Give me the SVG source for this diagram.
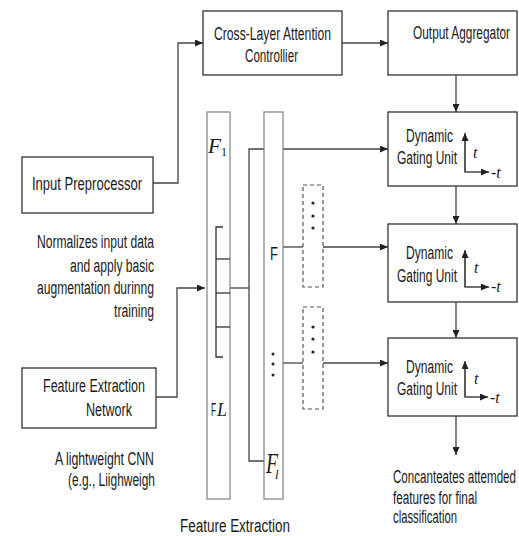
<svg xmlns="http://www.w3.org/2000/svg" width="519" height="536" viewBox="0 0 519 536">
<defs>
<style>
.box{fill:#fff;stroke:#333;stroke-width:1.3}
.col{fill:#fff;stroke:#808080;stroke-width:1.2}
.ln{fill:none;stroke:#444;stroke-width:1.3}
.br{fill:none;stroke:#333;stroke-width:1.3}
.dash{fill:none;stroke:#555;stroke-width:1.2;stroke-dasharray:4 3}
.t{font-family:"Liberation Sans",Arial,sans-serif;font-size:18px;fill:#1a1a1a}
.m{font-family:"Liberation Serif","Times New Roman",serif;font-style:italic;fill:#1a1a1a}
.s{font-family:"Liberation Serif","Times New Roman",serif;fill:#1a1a1a}
.dot{fill:#222}
</style>
<marker id="ah" viewBox="0 0 8 7" refX="8" refY="3.5" markerWidth="8" markerHeight="7" markerUnits="userSpaceOnUse" orient="auto">
<path d="M0,0 L8,3.5 L0,7 z" fill="#222"/>
</marker>
</defs>
<rect width="519" height="536" fill="#fff"/>

<g id="connectors">
<polyline class="ln" points="153,183 178,183 178,43 203,43" marker-end="url(#ah)"/>
<line class="ln" x1="342" y1="43" x2="388" y2="43" marker-end="url(#ah)"/>
<polyline class="ln" points="156,397 177,397 177,288 205,288" marker-end="url(#ah)"/>
<line class="ln" x1="456" y1="75" x2="456" y2="112" marker-end="url(#ah)"/>
<line class="ln" x1="456" y1="186" x2="456" y2="224" marker-end="url(#ah)"/>
<line class="ln" x1="456" y1="302" x2="456" y2="338" marker-end="url(#ah)"/>
<line class="ln" x1="456" y1="416" x2="456" y2="455" marker-end="url(#ah)"/>
<polyline class="ln" points="264,149 249,149 249,461 264,461"/>
<line class="ln" x1="230" y1="288" x2="249" y2="288"/>
<line class="ln" x1="283" y1="149" x2="388" y2="149" marker-end="url(#ah)"/>
<line class="ln" x1="283" y1="247" x2="303" y2="247"/>
<line class="ln" x1="323" y1="247" x2="388" y2="247" marker-end="url(#ah)"/>
<line class="ln" x1="283" y1="363" x2="303" y2="363"/>
<line class="ln" x1="323" y1="363" x2="388" y2="363" marker-end="url(#ah)"/>
</g>

<g id="cross-layer-attention-controller">
<rect class="box" x="203" y="11" width="139" height="64"/>
<text class="t" x="214" y="40" textLength="117" lengthAdjust="spacingAndGlyphs">Cross-Layer Attention</text>
<text class="t" x="245" y="62" textLength="53" lengthAdjust="spacingAndGlyphs">Controllier</text>
</g>

<g id="output-aggregator">
<rect class="box" x="388" y="11" width="129" height="64"/>
<text class="t" x="413" y="39" textLength="97" lengthAdjust="spacingAndGlyphs">Output Aggregator</text>
</g>

<g id="input-preprocessor">
<rect class="box" x="22" y="157" width="131" height="56"/>
<text class="t" x="32" y="190" textLength="110" lengthAdjust="spacingAndGlyphs">Input Preprocessor</text>
</g>

<g id="input-preprocessor-note">
<text class="t" x="37" y="248" textLength="117" lengthAdjust="spacingAndGlyphs">Normalizes input data</text>
<text class="t" x="70" y="272" textLength="84" lengthAdjust="spacingAndGlyphs">and apply basic</text>
<text class="t" x="37" y="294" textLength="117" lengthAdjust="spacingAndGlyphs">augmentation durinng</text>
<text class="t" x="114" y="317" textLength="40" lengthAdjust="spacingAndGlyphs">training</text>
</g>

<g id="feature-extraction-network">
<rect class="box" x="22" y="368" width="134" height="60"/>
<text class="t" x="43" y="392" textLength="102" lengthAdjust="spacingAndGlyphs">Feature Extraction</text>
<text class="t" x="86" y="416" textLength="46" lengthAdjust="spacingAndGlyphs">Network</text>
</g>

<g id="feature-extraction-note">
<text class="t" x="55" y="465" textLength="99" lengthAdjust="spacingAndGlyphs">A lightweight CNN</text>
<text class="t" x="68" y="486" textLength="87" lengthAdjust="spacingAndGlyphs">(e.g., Liighweigh</text>
</g>

<g id="feature-column-1">
<rect class="col" x="207" y="112" width="23" height="387"/>
<text class="m" x="208" y="153" font-size="20" textLength="13" lengthAdjust="spacingAndGlyphs">F</text>
<text class="s" x="221" y="156" font-size="12">1</text>
<polyline class="br" points="223,227 216,227 216,357 223,357"/>
<line class="br" x1="216" y1="259" x2="230" y2="259"/>
<line class="br" x1="216" y1="293" x2="230" y2="293"/>
<line class="br" x1="216" y1="327" x2="230" y2="327"/>
<text class="t" x="211" y="416" font-size="22" textLength="5" lengthAdjust="spacingAndGlyphs">F</text>
<text class="m" x="217" y="416" font-size="19" textLength="10" lengthAdjust="spacingAndGlyphs">L</text>
</g>

<g id="feature-column-2">
<rect class="col" x="264" y="112" width="19" height="387"/>
<text class="t" x="270" y="260" font-size="25" textLength="8" lengthAdjust="spacingAndGlyphs">F</text>
<circle class="dot" cx="273" cy="354" r="1.5"/>
<circle class="dot" cx="273" cy="364" r="1.5"/>
<circle class="dot" cx="273" cy="375" r="1.5"/>
<text class="m" x="266" y="473" font-size="29" textLength="12" lengthAdjust="spacingAndGlyphs">F</text>
<text class="m" x="275" y="479" font-size="13">l</text>
</g>

<g id="feature-extraction-label">
<text class="t" x="180" y="532" textLength="110" lengthAdjust="spacingAndGlyphs">Feature Extraction</text>
</g>

<g id="selector-1">
<rect class="dash" x="303" y="185" width="20" height="102"/>
<circle class="dot" cx="313" cy="203" r="1.6"/>
<circle class="dot" cx="313" cy="216" r="1.6"/>
<circle class="dot" cx="313" cy="228" r="1.6"/>
</g>

<g id="selector-2">
<rect class="dash" x="303" y="307" width="20" height="102"/>
<circle class="dot" cx="313" cy="327" r="1.6"/>
<circle class="dot" cx="313" cy="339" r="1.6"/>
<circle class="dot" cx="313" cy="352" r="1.6"/>
</g>

<g id="dynamic-gating-unit-1">
<rect class="box" x="388" y="112" width="129" height="74"/>
<text class="t" x="406" y="142" textLength="47" lengthAdjust="spacingAndGlyphs">Dynamic</text>
<text class="t" x="397" y="164" textLength="60" lengthAdjust="spacingAndGlyphs">Gating Unit</text>
<polyline class="ln" points="465,134 465,172 489,172" marker-end="url(#ah)"/>
<line class="ln" x1="465" y1="172" x2="465" y2="133" marker-end="url(#ah)"/>
<text class="m" x="473" y="158" font-size="16">t</text>
<text class="s" x="491" y="178" font-size="16">-<tspan class="m">t</tspan></text>
</g>

<g id="dynamic-gating-unit-2">
<rect class="box" x="388" y="224" width="129" height="78"/>
<text class="t" x="406" y="259" textLength="47" lengthAdjust="spacingAndGlyphs">Dynamic</text>
<text class="t" x="397" y="282" textLength="60" lengthAdjust="spacingAndGlyphs">Gating Unit</text>
<polyline class="ln" points="465,251 465,287 489,287" marker-end="url(#ah)"/>
<line class="ln" x1="465" y1="287" x2="465" y2="250" marker-end="url(#ah)"/>
<text class="m" x="474" y="273" font-size="16">t</text>
<text class="s" x="491" y="292" font-size="16">-<tspan class="m">t</tspan></text>
</g>

<g id="dynamic-gating-unit-3">
<rect class="box" x="388" y="338" width="129" height="78"/>
<text class="t" x="406" y="373" textLength="47" lengthAdjust="spacingAndGlyphs">Dynamic</text>
<text class="t" x="397" y="395" textLength="60" lengthAdjust="spacingAndGlyphs">Gating Unit</text>
<polyline class="ln" points="465,362 465,397 488,397" marker-end="url(#ah)"/>
<line class="ln" x1="465" y1="397" x2="465" y2="361" marker-end="url(#ah)"/>
<text class="m" x="474" y="384" font-size="16">t</text>
<text class="s" x="490" y="403" font-size="16">-<tspan class="m">t</tspan></text>
</g>

<g id="output-note">
<text class="t" x="393" y="483" textLength="123" lengthAdjust="spacingAndGlyphs">Concanteates attemded</text>
<text class="t" x="393" y="504" textLength="84" lengthAdjust="spacingAndGlyphs">features for final</text>
<text class="t" x="393" y="523" textLength="64" lengthAdjust="spacingAndGlyphs">classification</text>
</g>
</svg>
